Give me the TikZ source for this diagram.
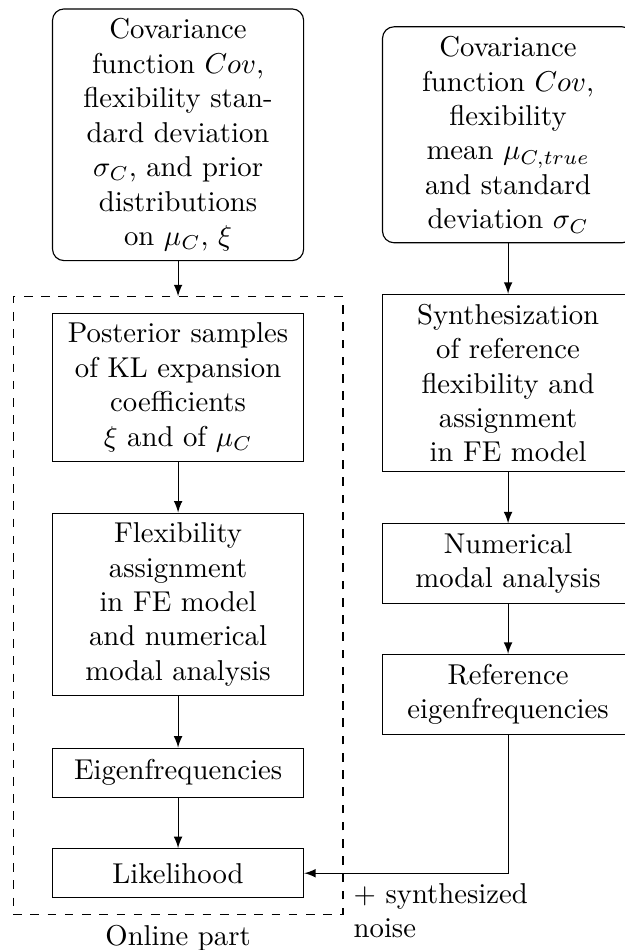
\documentclass[tikz,border=0pt]{standalone}
\usetikzlibrary{fit}

\begin{document}
\begin{tikzpicture}[>=latex,
    box/.style={draw, align=center, text width=2.84cm, minimum height=6mm},
    rbox/.style={box, rounded corners}]
    \useasboundingbox (0,0) rectangle (7.64,11.63);
    \node[rbox] (prior) at (2.18,9.98) {Covariance\\ function $Cov$,\\ flexibility stan-\\ dard deviation\\ $\sigma_C$, and prior\\ distributions\\ on $\mu_C$, $\xi$};
    \node[rbox] (truth) at (6.22,9.98) {Covariance\\ function $Cov$,\\ flexibility\\ mean $\mu_{C,true}$\\ and standard\\ deviation $\sigma_C$};
    \node[box] (post) at (2.18,6.89) {Posterior samples\\ of KL expansion\\ coefficients\\ $\xi$ and of $\mu_C$};
    \node[box] (flexfe) at (2.18,4.23) {Flexibility\\ assignment\\ in FE model\\ and numerical\\ modal analysis};
    \node[box] (eig) at (2.18,2.17) {Eigenfrequencies};
    \node[box] (like) at (2.18,0.94) {Likelihood};
    \node[box] (synth) at (6.22,6.94) {Synthesization\\ of reference\\ flexibility and\\ assignment\\ in FE model};
    \node[box] (nummodal) at (6.22,4.73) {Numerical\\ modal analysis};
    \node[box] (refeig) at (6.22,3.13) {Reference\\ eigenfrequencies};
    \node[draw, dashed, fit=(post)(like), inner xsep=13.5pt, inner ysep=5.5pt,
        label=below:{Online part}] (online) {};
    \node[below right, align=left] (noise) at (online.east |- like.east) {+ synthesized\\ noise};
    \draw[->] (prior) -- (online);
    \draw[->] (post) -- (flexfe);
    \draw[->] (flexfe) -- (eig);
    \draw[->] (eig) -- (like);
    \draw[->] (truth) -- (synth);
    \draw[->] (synth) -- (nummodal);
    \draw[->] (nummodal) -- (refeig);
    \draw[->] (refeig) |- (like);
\end{tikzpicture}
\end{document}
